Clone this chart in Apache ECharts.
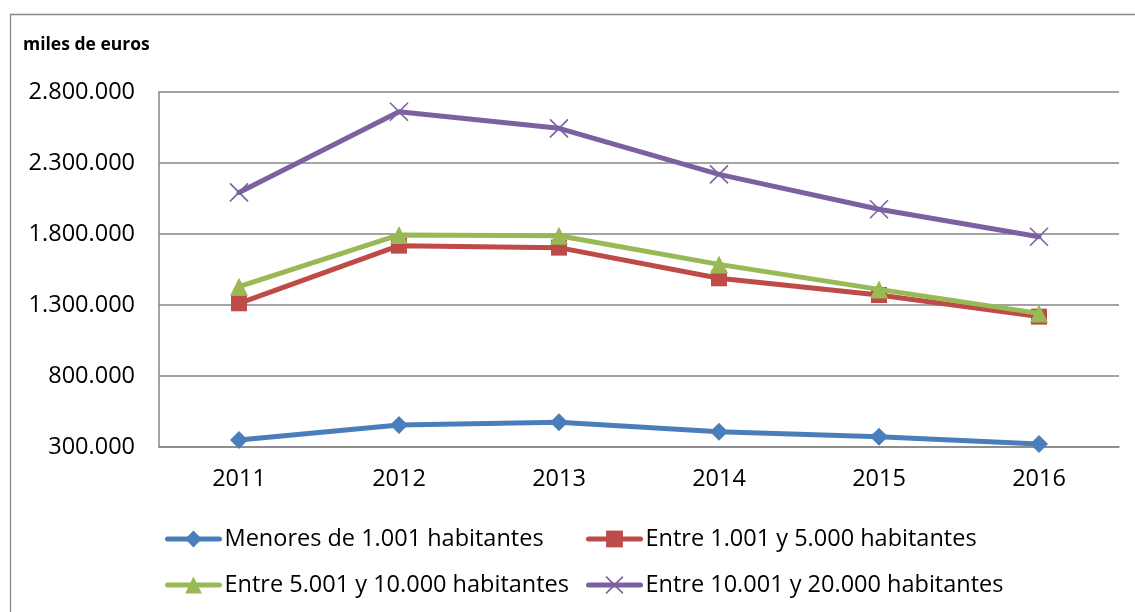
<!DOCTYPE html>
<html>
<head>
<meta charset="utf-8">
<script src="https://cdn.jsdelivr.net/npm/echarts@6/dist/echarts.min.js"></script>
<style>
html,body{margin:0;padding:0;background:#fff;}
#c{width:1135px;height:612px;}
</style>
</head>
<body>
<div id="c"></div>
<script>
const years = ['2011','2012','2013','2014','2015','2016'];
const seriesNames = ['Menores de 1.001 habitantes','Entre 1.001 y 5.000 habitantes','Entre 5.001 y 10.000 habitantes','Entre 10.001 y 20.000 habitantes'];
const menores1001 = [349000, 455000, 474000, 408000, 373000, 321000];
const entre1001_5000 = [1312000, 1718000, 1704000, 1488000, 1370000, 1218000];
const entre5001_10000 = [1429000, 1793000, 1788000, 1586000, 1410000, 1241000];
const entre10001_20000 = [2093000, 2661000, 2544000, 2220000, 1974000, 1781000];
const yTicks = [300000, 800000, 1300000, 1800000, 2300000, 2800000];

const colors = ['#4a7ebb','#be4b48','#98b954','#7d60a0'];
const FONT = '"Open Sans", "Noto Sans", sans-serif';

function fmt(v){
  return String(v).replace(/\B(?=(\d{3})+(?!\d))/g, '.');
}

const crossPath = 'path://M0,0L20,20M20,0L0,20';

const chart = echarts.init(document.getElementById('c'), null, {renderer:'canvas'});
const dataSets = [menores1001, entre1001_5000, entre5001_10000, entre10001_20000];
const symbols = ['diamond','rect','triangle', crossPath];
const symbolSizes = [18, 16, 18, 18];

function itemStyleFor(i){
  return i===3 ? {color: 'rgba(0,0,0,0)', borderColor: colors[i], borderWidth: 1.6} : {color: colors[i], borderWidth: 0};
}

const series = dataSets.map((d,i)=>({
  name: seriesNames[i],
  type: 'line',
  data: d,
  symbol: symbols[i],
  symbolSize: symbolSizes[i],
  showAllSymbol: true,
  lineStyle: {width: 5, color: colors[i], cap: 'round', join: 'round'},
  itemStyle: itemStyleFor(i),
  emphasis: {disabled: true},
  z: 2 + (i===2 ? 1 : 0) + (i===3?2:0)
}));

const legendPos = [
  {left: 160, top: 522},
  {left: 581, top: 522},
  {left: 160, top: 568},
  {left: 581, top: 568}
];
const legends = seriesNames.map((n,i)=>({
  data: [{name: n}],
  left: legendPos[i].left,
  top: legendPos[i].top,
  orient: 'horizontal',
  itemWidth: 52,
  itemHeight: 21,
  itemGap: 8,
  selectedMode: false,
  lineStyle: {width: 5, cap: 'round'},
  itemStyle: i===3 ? {color: 'rgba(0,0,0,0)', borderColor: colors[i], borderWidth: 1.6} : {borderWidth: 0},
  textStyle: {fontFamily: FONT, fontSize: 23.5, color: '#000'}
}));

chart.setOption({
  animation: false,
  color: colors,
  legend: legends,
  grid: {left: 159, top: 92, width: 960, height: 355, containLabel: false},
  graphic: [
    {type:'rect', left: 8, top: 12, shape:{x:0,y:0,width:1140,height:620}, style:{fill:'none', stroke:'#878787', lineWidth:1.3}, silent:true, z:-1},
    {type:'text', left: 23, top: 36, style:{text:'miles de euros', font:'bold 17.5px ' + FONT, fill:'#000'}}
  ],
  xAxis: {
    type: 'category',
    data: years,
    boundaryGap: true,
    axisLine: {show: true, lineStyle: {color: '#868686', width: 1.5}},
    axisTick: {show: false},
    axisLabel: {fontFamily: FONT, fontSize: 23.5, color: '#000', margin: 20}
  },
  yAxis: {
    type: 'value',
    min: yTicks[0],
    max: yTicks[yTicks.length-1],
    interval: yTicks[1]-yTicks[0],
    axisLine: {show: true, lineStyle: {color: '#868686', width: 1.5}},
    axisTick: {show: false},
    splitLine: {show: true, lineStyle: {color: '#868686', width: 1.5}},
    axisLabel: {fontFamily: FONT, fontSize: 23.5, color: '#000', margin: 24, formatter: v => fmt(v)}
  },
  series: series
});
</script>
</body>
</html>
